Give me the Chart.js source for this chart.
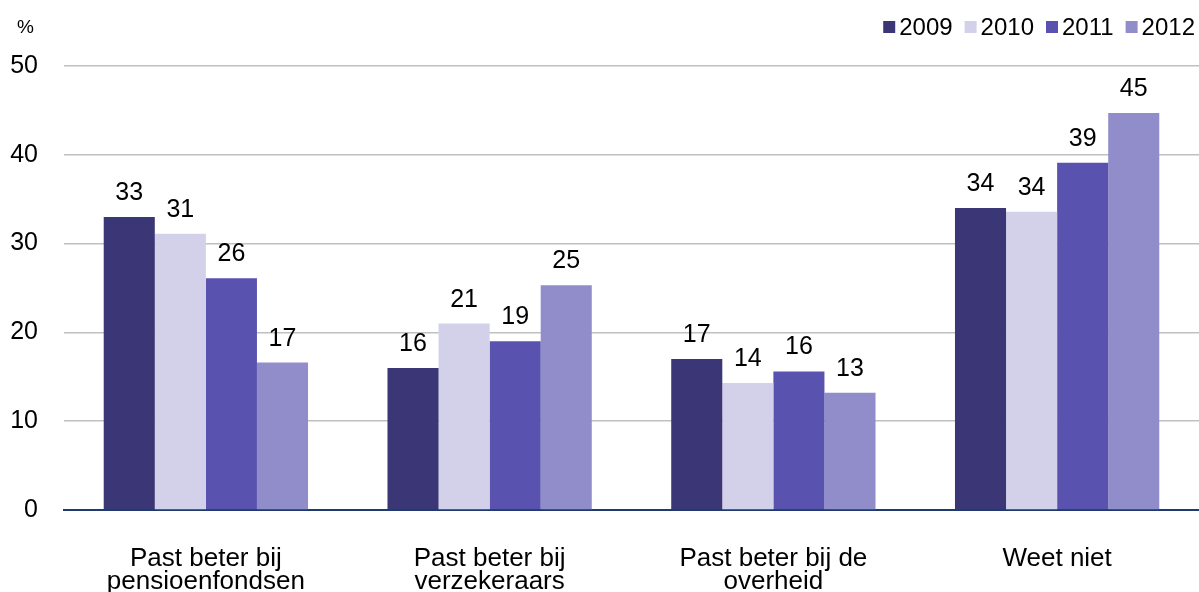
<!DOCTYPE html>
<html>
<head>
<meta charset="utf-8">
<script src="https://cdn.jsdelivr.net/npm/chart.js@4/dist/chart.umd.min.js"></script>
<style>
  html, body { margin: 0; padding: 0; background: #fff; }
  #wrap { width: 1199px; height: 592px; position: relative; }
</style>
</head>
<body>
<div id="wrap"><canvas id="chart"></canvas></div>
<script>
const categories = [
  ["Past beter bij", "pensioenfondsen"],
  ["Past beter bij", "verzekeraars"],
  ["Past beter bij de", "overheid"],
  "Weet niet"
];
const years = ["2009", "2010", "2011", "2012"];
const values2009 = [33.0, 16.0, 17.0, 34.0];
const values2010 = [31.1, 21.0, 14.3, 33.6];
const values2011 = [26.1, 19.0, 15.6, 39.1];
const values2012 = [16.6, 25.3, 13.2, 44.7];
const yTicks = [0, 10, 20, 30, 40, 50];

const colors = ["#3b3675", "#d3d1ea", "#5a52af", "#918dca"];
const FONT = "'Liberation Sans', Arial, sans-serif";

const series = [values2009, values2010, values2011, values2012];

// value labels above bars, "%" unit and the legend row
const extras = {
  id: "extras",
  afterDatasetsDraw(chart) {
    const ctx = chart.ctx;
    ctx.save();
    ctx.fillStyle = "#000";
    ctx.font = "25px " + FONT;
    ctx.textAlign = "center";
    ctx.textBaseline = "alphabetic";
    chart.data.datasets.forEach((ds, i) => {
      chart.getDatasetMeta(i).data.forEach((bar, j) => {
        ctx.fillText(String(Math.round(ds.data[j])), bar.x, bar.y - 17);
      });
    });

    ctx.font = "19px " + FONT;
    ctx.textAlign = "left";
    ctx.fillText("%", 17, 33);

    // legend, laid out right to left
    ctx.font = "24px " + FONT;
    let x = 1195;
    for (let i = chart.data.datasets.length - 1; i >= 0; i--) {
      const label = chart.data.datasets[i].label;
      const w = ctx.measureText(label).width;
      ctx.fillStyle = "#000";
      ctx.fillText(label, x - w, 35);
      ctx.fillStyle = colors[i];
      ctx.fillRect(x - w - 16, 21, 12, 12);
      x = x - w - 16 - 12;
    }
    ctx.restore();
  }
};

new Chart(document.getElementById("chart"), {
  type: "bar",
  data: {
    labels: categories,
    datasets: years.map((y, i) => ({
      label: y,
      data: series[i],
      backgroundColor: colors[i],
      borderWidth: 0,
      categoryPercentage: 0.72,
      barPercentage: 1.0
    }))
  },
  options: {
    responsive: true,
    maintainAspectRatio: false,
    animation: false,
    layout: { padding: { top: 66, right: 0, left: 0, bottom: 0 } },
    plugins: {
      legend: { display: false },
      tooltip: { enabled: false }
    },
    scales: {
      x: {
        grid: { display: false, drawTicks: false },
        border: { display: true, color: "#1f3a6e", width: 2 },
        ticks: {
          color: "#000",
          font: { family: FONT, size: 26, lineHeight: 0.9 },
          padding: 37,
          maxRotation: 0,
          autoSkip: false
        },
        afterFit: s => { s.height = 82; }
      },
      y: {
        min: 0,
        max: 50,
        afterBuildTicks: s => { s.ticks = yTicks.map(v => ({ value: v })); },
        grid: { color: "#c0c0c0", lineWidth: 1.5, drawTicks: false },
        border: { display: false },
        ticks: {
          color: "#000",
          font: { family: FONT, size: 25 },
          padding: 26
        },
        afterFit: s => { s.width = 64; }
      }
    }
  },
  plugins: [extras]
});
</script>
</body>
</html>
